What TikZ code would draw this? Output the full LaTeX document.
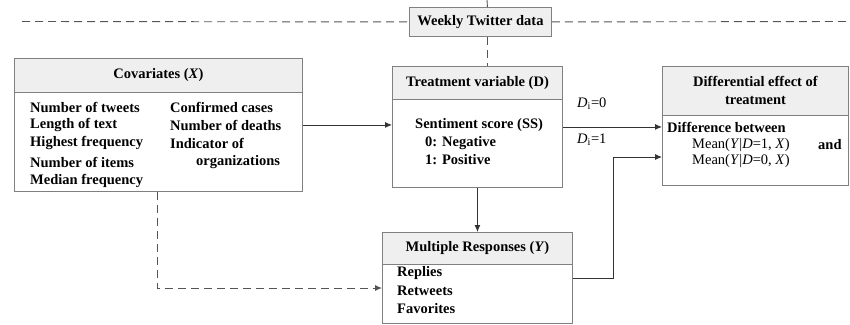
\documentclass[tikz,border=0pt]{standalone}
\usepackage{fontspec}
\setmainfont{Liberation Serif}
\usetikzlibrary{arrows.meta,calc}
\definecolor{boxgray}{HTML}{808080}
\definecolor{hdrgray}{HTML}{EFEFEF}
\definecolor{linegray}{HTML}{333333}
\definecolor{dashgray}{HTML}{555555}
\tikzset{
  box/.style={draw=boxgray, line width=0.9pt, fill=white, rectangle, inner sep=0pt, anchor=north west},
  hdr/.style={draw=boxgray, line width=0.9pt, fill=hdrgray, rectangle, inner sep=0pt, anchor=north west},
  txt/.style={inner sep=0pt, anchor=west, font=\fontsize{14.5}{17}\selectfont\bfseries},
  ctxt/.style={inner sep=0pt, align=center, font=\fontsize{14.5}{18}\selectfont\bfseries},
  rtxt/.style={inner sep=0pt, anchor=west, font=\fontsize{14.5}{17}\selectfont},
  conn/.style={draw=linegray, line width=0.9pt, -{Latex[length=7pt,width=6pt]}},
  dconn/.style={draw=dashgray, line width=0.9pt, dash pattern=on 8pt off 5pt, -{Latex[length=7pt,width=6pt]}},
  dline/.style={draw=dashgray, line width=0.9pt, dash pattern=on 8pt off 5pt},
}
\begin{document}
\begin{tikzpicture}[x=1pt,y=-1pt]
\useasboundingbox (0,0) rectangle (850,324);
% Weekly Twitter data
\node[hdr, minimum width=142pt, minimum height=29pt] (wk) at (409,7) {};
\node[ctxt] (wkt) at (wk.center) {Weekly Twitter data};
% Covariates
\node[box, minimum width=288pt, minimum height=133pt] (cov) at (14,58) {};
\node[hdr, minimum width=288pt, minimum height=34pt] (covh) at (14,58) {};
\node[ctxt] (covt) at (covh.center) {Covariates (\textit{X})};
\node[txt] (c1) at (30,107) {Number of tweets};
\node[txt] (c2) at (30,125) {Length of text};
\node[txt] (c3) at (30,143) {Highest frequency};
\node[txt] (c4) at (30,162) {Number of items};
\node[txt] (c5) at (30,181) {Median frequency};
\node[txt] (c6) at (170,107) {Confirmed cases};
\node[txt] (c7) at (170,125) {Number of deaths};
\node[txt] (c8) at (170,143) {Indicator of};
\node[txt] (c9) at (196,162) {organizations};
% Treatment
\node[box, minimum width=170pt, minimum height=121pt] (trt) at (392,66) {};
\node[hdr, minimum width=170pt, minimum height=33pt] (trth) at (392,66) {};
\node[ctxt] (trtt) at (trth.center) {Treatment variable (D)};
\node[txt] (t1) at (415,125) {Sentiment score (SS)};
\node[txt] (t2) at (425,143) {0: Negative};
\node[txt] (t3) at (425,160) {1: Positive};
% Differential effect
\node[box, minimum width=186pt, minimum height=119pt] (dif) at (662,66) {};
\node[hdr, minimum width=186pt, minimum height=49pt] (difh) at (662,66) {};
\node[ctxt] (dift) at (difh.center) {Differential effect of\\treatment};
\node[txt] (d1) at (667,127) {Difference between};
\node[rtxt] (d2) at (692,145) {Mean(\textit{Y}|\textit{D}=1, \textit{X})};
\node[txt] (d3) at (818,145) {and};
\node[rtxt] (d4) at (692,161) {Mean(\textit{Y}|\textit{D}=0, \textit{X})};
% Multiple responses
\node[box, minimum width=190pt, minimum height=91pt] (mr) at (382,232) {};
\node[hdr, minimum width=190pt, minimum height=32pt] (mrh) at (382,232) {};
\node[ctxt] (mrt) at (mrh.center) {Multiple Responses (\textit{Y})};
\node[txt] (m1) at (397,273) {Replies};
\node[txt] (m2) at (397,291) {Retweets};
\node[txt] (m3) at (397,309) {Favorites};
% labels
\node[rtxt] (l0) at (577,104) {\textit{D}\textsubscript{i}=0};
\node[rtxt] (l1) at (577,140) {\textit{D}\textsubscript{i}=1};
% coordinates
\coordinate (tl) at (22,21.5);
\coordinate (tr) at (850,21.5);
\coordinate (wktop) at (487,0);
\coordinate (wkin) at ($(wk.north)+(7,0)$);
\coordinate (wkout) at ($(wk.south)+(7,0)$);
\coordinate (trtin) at ($(trt.north)+(10,0)$);
\coordinate (difin) at ($(dif.north west)+(0,91)$);
\coordinate (covout) at ($(cov.south west)+(143,0)$);
\coordinate (mrin) at ($(mr.north west)+(0,56)$);
% connectors
\draw[dline] (tl) -- (wk.west);
\draw[dline] (wk.east) -- (tr);
\draw[draw=dashgray, line width=0.9pt] (wktop) -- (wkin);
\draw[dline] (wkout) -- (trtin);
\draw[conn] (cov.east) -- (cov.east -| trt.west);
\draw[conn] (trt.east) -- (trt.east -| dif.west);
\draw[conn] (trt.south) -- (mr.north);
\draw[conn] (mr.east) -- ++(41,0) |- (difin);
\draw[dconn] (covout) |- (mrin);
\end{tikzpicture}
\end{document}
